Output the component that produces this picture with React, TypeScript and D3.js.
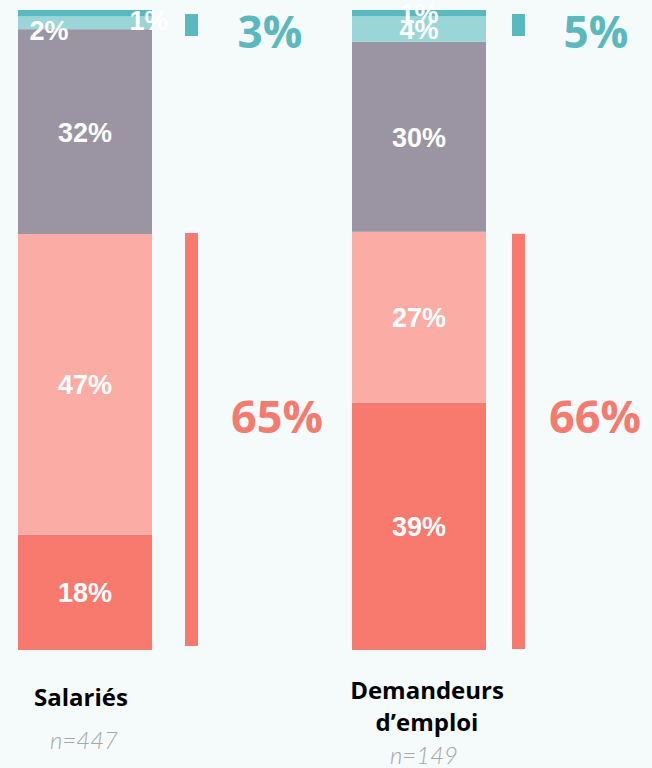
import React from "react";
import * as d3 from "d3";

const categories = ["Salariés", "Demandeurs d’emploi"];
const categoryLines = [["Salariés"], ["Demandeurs", "d’emploi"]];
const sampleSizes = ["n=447", "n=149"];
const segmentKeys = ["s1", "s2", "s3", "s4", "s5"]; // bottom to top
const salariesValues = [18, 47, 32, 2, 1];
const demandeursValues = [39, 27, 30, 4, 1];
const lowTotals = [65, 66];
const highTotals = [3, 5];

const W = 652;
const H = 768;
const colors = ["#f8796e", "#fbaca5", "#9b95a3", "#9ad5d8", "#5ab9be"];
const barLeft = [18, 352];
const barWidth = 134;
const top = 10;
const bottom = 650;
// manual label nudges (original chart had hand-placed labels on thin segments)
const labelNudge: Record<string, { dx: number; dy: number }> = {
  "0-3": { dx: -36, dy: 7 },
  "0-4": { dx: 64, dy: 7 },
};
const bigLowX = [277, 595];
const bigHighX = [270, 596];

export default function App() {
  const seriesValues = [salariesValues, demandeursValues];
  return (
    <div style={{ position: "fixed", left: 0, top: 0, width: W, height: H, background: "#f5fafa" }}>
      <svg width={W} height={H} style={{ display: "block" }}>
        <rect x={0} y={0} width={W} height={H} fill="#f5fafa" />
        {seriesValues.map((vals, bi) => {
          const total = d3.sum(vals);
          const y = d3.scaleLinear().domain([0, total]).range([bottom, top]);
          const stacked = d3.stack<any>().keys(segmentKeys)([
            Object.fromEntries(segmentKeys.map((k, i) => [k, vals[i]])),
          ]);
          const x0 = barLeft[bi];
          const cx = x0 + barWidth / 2;
          const bx = x0 + barWidth + 33 - bi * 7;
          return (
            <g key={bi}>
              {stacked.map((s, si) => {
                const [a, b] = s[0];
                return (
                  <rect
                    key={si}
                    x={x0}
                    y={y(b)}
                    width={barWidth}
                    height={y(a) - y(b)}
                    fill={colors[si]}
                  />
                );
              })}
              {stacked.map((s, si) => {
                const [a, b] = s[0];
                const nud = labelNudge[`${bi}-${si}`] || { dx: 0, dy: 0 };
                return (
                  <text
                    key={"t" + si}
                    x={cx + nud.dx}
                    y={(y(a) + y(b)) / 2 + 10 + nud.dy}
                    textAnchor="middle"
                    fontFamily="Liberation Sans, Arial, sans-serif"
                    fontWeight="bold"
                    fontSize={27}
                    fill="#ffffff"
                  >
                    {vals[si]}%
                  </text>
                );
              })}
              {/* brackets */}
              <rect
                x={bx}
                y={y(lowTotals[bi]) - 1 + bi * 3}
                width={13}
                height={y(0) - y(lowTotals[bi]) - 3}
                fill="#f8796e"
              />
              <rect x={bx} y={y(total) + 4} width={13} height={22} fill="#5ab9be" />
              <text
                x={bigLowX[bi]}
                y={433}
                textAnchor="middle"
                fontFamily="Open Sans, sans-serif"
                fontWeight="bold"
                fontSize={45}
                fill="#f47b70"
              >
                {lowTotals[bi]}%
              </text>
              <text
                x={bigHighX[bi]}
                y={48}
                textAnchor="middle"
                fontFamily="Open Sans, sans-serif"
                fontWeight="bold"
                fontSize={44}
                fill="#5bb9bd"
              >
                {highTotals[bi]}%
              </text>
              {categoryLines[bi].map((line, li) => (
                <text
                  key={"c" + li}
                  x={bi === 0 ? 81 : 427}
                  y={(bi === 0 ? 706 : 699) + li * 32}
                  textAnchor="middle"
                  fontFamily="Open Sans, sans-serif"
                  fontWeight="bold"
                  fontSize={24}
                  fill="#000000"
                >
                  {line}
                </text>
              ))}
              <text
                x={bi === 0 ? 84 : 424}
                y={bi === 0 ? 749 : 764}
                textAnchor="middle"
                fontFamily="Lato, sans-serif"
                fontStyle="italic"
                fontWeight={300}
                fontSize={24}
                fill="#a6a6a6"
              >
                {sampleSizes[bi]}
              </text>
            </g>
          );
        })}
      </svg>
    </div>
  );
}
